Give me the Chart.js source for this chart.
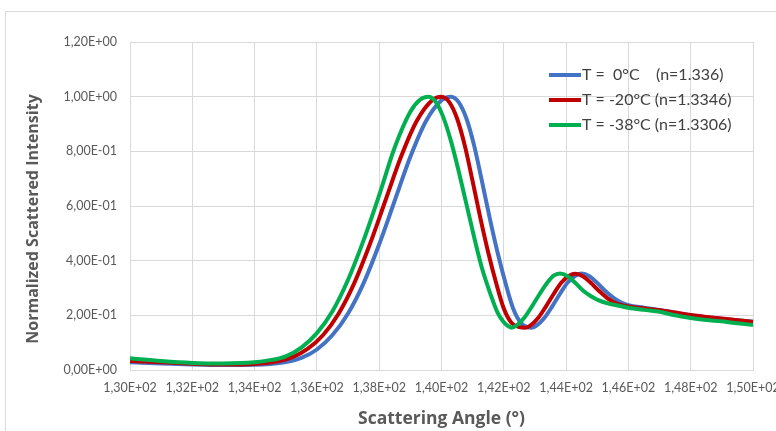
<!DOCTYPE html>
<html>
<head>
<meta charset="utf-8">
<script src="https://cdn.jsdelivr.net/npm/chart.js@4/dist/chart.umd.min.js"></script>
<style>
  html, body { margin: 0; padding: 0; background: #fff; }
  #wrap { width: 776px; height: 431px; position: relative; }
</style>
</head>
<body>
<div id="wrap"><canvas id="scatterChart" width="776" height="431"></canvas></div>
<script>
// Scattering angle (deg) and normalized intensity for each temperature
const angles0 = [130, 131, 132, 133, 134, 134.5, 135, 135.5, 136, 136.5, 137, 137.5, 138, 138.5, 139, 139.5, 140, 140.3, 140.55, 140.8, 141.05, 141.3, 141.55, 141.8, 142.05, 142.3, 142.55, 142.75, 142.9, 143.05, 143.3, 143.55, 143.8, 144.05, 144.3, 144.5, 144.75, 145, 145.25, 145.5, 145.75, 146, 146.5, 147, 147.5, 148, 148.5, 149, 149.5, 150];
const values0 = [0.028, 0.024, 0.020, 0.018, 0.019, 0.022, 0.029, 0.044, 0.075, 0.128, 0.207, 0.318, 0.46, 0.62, 0.78, 0.91, 0.987, 1.0, 0.98, 0.92, 0.82, 0.69, 0.555, 0.43, 0.32, 0.225, 0.172, 0.157, 0.155, 0.162, 0.19, 0.232, 0.278, 0.32, 0.345, 0.353, 0.343, 0.318, 0.29, 0.266, 0.248, 0.237, 0.228, 0.22, 0.21, 0.2, 0.193, 0.187, 0.182, 0.177];

const angles20 = [130, 131, 132, 133, 134, 134.7, 135.2, 135.7, 136.2, 136.7, 137.2, 137.7, 138.2, 138.7, 139.2, 139.7, 140, 140.25, 140.5, 140.75, 141, 141.25, 141.5, 141.75, 142, 142.25, 142.5, 142.7, 142.85, 143.1, 143.35, 143.6, 143.85, 144.1, 144.3, 144.55, 144.8, 145.05, 145.3, 145.55, 145.8, 146.3, 147, 147.5, 148, 148.5, 149, 149.5, 150];
const values20 = [0.033, 0.028, 0.023, 0.020, 0.022, 0.031, 0.046, 0.077, 0.128, 0.207, 0.318, 0.46, 0.62, 0.78, 0.91, 0.987, 1.0, 0.98, 0.92, 0.82, 0.69, 0.555, 0.43, 0.32, 0.225, 0.172, 0.157, 0.155, 0.162, 0.19, 0.232, 0.278, 0.32, 0.345, 0.352, 0.342, 0.318, 0.29, 0.265, 0.247, 0.237, 0.228, 0.219, 0.21, 0.201, 0.194, 0.188, 0.182, 0.176];

const angles38 = [130, 131, 132, 133, 134, 134.5, 135, 135.5, 136, 136.5, 137, 137.5, 138, 138.5, 139, 139.3, 139.57, 139.8, 140.05, 140.3, 140.55, 140.8, 141.05, 141.3, 141.55, 141.8, 142, 142.15, 142.25, 142.4, 142.65, 142.9, 143.15, 143.4, 143.6, 143.8, 144.05, 144.3, 144.55, 144.8, 145.05, 145.3, 145.7, 146, 146.5, 147, 147.5, 148, 148.5, 149, 149.5, 150];
const values38 = [0.043, 0.033, 0.026, 0.024, 0.028, 0.036, 0.05, 0.082, 0.135, 0.215, 0.33, 0.475, 0.64, 0.815, 0.945, 0.988, 1.0, 0.983, 0.927, 0.839, 0.728, 0.607, 0.485, 0.372, 0.285, 0.21, 0.175, 0.16, 0.155, 0.162, 0.19, 0.232, 0.278, 0.32, 0.345, 0.353, 0.343, 0.318, 0.29, 0.27, 0.255, 0.245, 0.235, 0.228, 0.22, 0.213, 0.2, 0.19, 0.183, 0.178, 0.171, 0.165];

const seriesLabels = ['T =  0°C    (n=1.336)', 'T = -20°C (n=1.3346)', 'T = -38°C (n=1.3306)'];
const seriesColors = ['#4472C4', '#C00000', '#00B050'];
const yTitle = 'Normalized Scattered Intensity';
const xTitle = 'Scattering Angle (°)';

const toPoints = (xs, ys) => xs.map((x, i) => ({ x: x, y: ys[i] }));

// Excel style scientific label, e.g. 1,20E+00
function sciLabel(v) {
  if (Math.abs(v) < 1e-9) return '0,00E+00';
  let exp = Math.floor(Math.log10(Math.abs(v)) + 1e-9);
  let mant = v / Math.pow(10, exp);
  const sign = exp < 0 ? '-' : '+';
  return mant.toFixed(2).replace('.', ',') + 'E' + sign + String(Math.abs(exp)).padStart(2, '0');
}

const textGray = '#595959';
const gridGray = '#D9D9D9';

// frame around the whole chart + rotated y axis title
const framePlugin = {
  id: 'frame',
  beforeDraw(chart) {
    const ctx = chart.ctx;
    ctx.save();
    ctx.strokeStyle = '#D9D9D9';
    ctx.lineWidth = 1;
    ctx.strokeRect(5.5, 11.5, 800, 500);
    ctx.translate(33, 219);
    ctx.rotate(-Math.PI / 2);
    ctx.font = 'bold 16px "Open Sans"';
    ctx.fillStyle = textGray;
    ctx.textAlign = 'center';
    ctx.textBaseline = 'middle';
    ctx.fillText(yTitle, 0, 0);
    ctx.restore();
  }
};

// legend drawn inside the plot, top right
const insideLegend = {
  id: 'insideLegend',
  afterDatasetsDraw(chart) {
    const ctx = chart.ctx;
    ctx.save();
    ctx.font = '16px Lato';
    ctx.textBaseline = 'middle';
    chart.data.datasets.forEach((ds, i) => {
      const y = 75 + i * 25;
      ctx.strokeStyle = ds.borderColor;
      ctx.lineWidth = 4;
      ctx.beginPath();
      ctx.moveTo(549, y);
      ctx.lineTo(581, y);
      ctx.stroke();
      ctx.fillStyle = '#404040';
      ctx.fillText(ds.label, 582, y);
    });
    ctx.restore();
  }
};

new Chart(document.getElementById('scatterChart'), {
  type: 'line',
  data: {
    datasets: [
      { label: seriesLabels[0], data: toPoints(angles0, values0), borderColor: seriesColors[0], order: 3 },
      { label: seriesLabels[1], data: toPoints(angles20, values20), borderColor: seriesColors[1], order: 2 },
      { label: seriesLabels[2], data: toPoints(angles38, values38), borderColor: seriesColors[2], order: 1 }
    ]
  },
  options: {
    responsive: false,
    animation: false,
    devicePixelRatio: 1,
    layout: { padding: { left: 0, top: 42, right: 23, bottom: 0 } },
    elements: {
      line: { borderWidth: 4, cubicInterpolationMode: 'monotone', fill: false },
      point: { radius: 0 }
    },
    plugins: {
      legend: { display: false },
      tooltip: { enabled: false }
    },
    scales: {
      x: {
        type: 'linear',
        min: 130,
        max: 150,
        afterFit: (s) => { s.height = 61; s.paddingLeft = 0; s.paddingRight = 0; },
        ticks: {
          stepSize: 2,
          autoSkip: false,
          padding: 10,
          color: textGray,
          font: { family: 'Lato', size: 12.5 },
          maxRotation: 0,
          callback: (v) => sciLabel(v)
        },
        grid: { color: gridGray, drawTicks: false },
        border: { color: gridGray },
        title: {
          display: true,
          text: xTitle,
          color: textGray,
          font: { family: 'Open Sans', size: 17.5, weight: 'bold' },
          padding: { top: 0, bottom: 1 }
        }
      },
      y: {
        min: 0,
        max: 1.2,
        afterFit: (s) => { s.width = 130; s.paddingTop = 0; s.paddingBottom = 0; },
        ticks: {
          stepSize: 0.2,
          autoSkip: false,
          padding: 13,
          color: textGray,
          font: { family: 'Lato', size: 12.5 },
          callback: (v) => sciLabel(v)
        },
        grid: { color: gridGray, drawTicks: false },
        border: { color: gridGray }
      }
    }
  },
  plugins: [framePlugin, insideLegend]
});
</script>
</body>
</html>
